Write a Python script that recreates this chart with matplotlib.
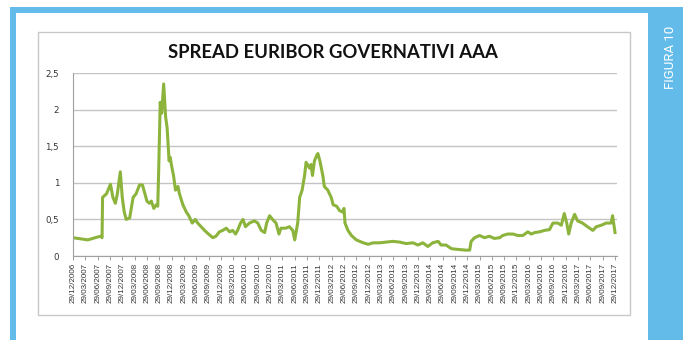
import numpy as np
import matplotlib
matplotlib.use("Agg")
from matplotlib import pyplot as plt
from matplotlib.patches import Rectangle

# spread series, x in years from 29/12/2006
years = [0.00, 0.10, 0.20, 0.30, 0.40, 0.50, 0.57, 0.59, 0.60, 0.68,
         0.76, 0.81, 0.86, 0.90, 0.96, 1.00, 1.04, 1.08, 1.15, 1.22,
         1.28, 1.35, 1.41, 1.46, 1.50, 1.55, 1.59, 1.64, 1.69, 1.72,
         1.74, 1.77, 1.80, 1.84, 1.88, 1.91, 1.95, 1.97, 2.01, 2.04,
         2.08, 2.13, 2.16, 2.23, 2.30, 2.35, 2.42, 2.48, 2.53, 2.60,
         2.67, 2.75, 2.84, 2.90, 2.97, 3.04, 3.11, 3.18, 3.24, 3.30,
         3.34, 3.40, 3.45, 3.50, 3.58, 3.68, 3.75, 3.82, 3.89, 3.93,
         3.99, 4.05, 4.12, 4.18, 4.22, 4.32, 4.39, 4.46, 4.50, 4.56,
         4.60, 4.65, 4.70, 4.73, 4.80, 4.83, 4.86, 4.90, 4.95, 4.97,
         5.01, 5.07, 5.10, 5.17, 5.24, 5.28, 5.35, 5.41, 5.47, 5.50,
         5.52, 5.58, 5.65, 5.75, 5.89, 5.99, 6.09, 6.22, 6.36, 6.49,
         6.63, 6.76, 6.90, 7.00, 7.10, 7.20, 7.30, 7.41, 7.47, 7.57,
         7.68, 7.81, 7.98, 8.05, 8.08, 8.15, 8.25, 8.35, 8.45, 8.55,
         8.66, 8.72, 8.82, 8.93, 9.03, 9.13, 9.23, 9.30, 9.37, 9.47,
         9.57, 9.67, 9.74, 9.84, 9.91, 9.97, 10.02, 10.06, 10.11, 10.18,
         10.24, 10.34, 10.44, 10.55, 10.62, 10.72, 10.82, 10.92, 10.95, 11.00]
spread = [0.25, 0.24, 0.23, 0.22, 0.24, 0.26, 0.27, 0.25, 0.80, 0.85,
          0.98, 0.80, 0.72, 0.85, 1.15, 0.80, 0.60, 0.50, 0.52, 0.80,
          0.85, 0.97, 0.97, 0.85, 0.75, 0.72, 0.75, 0.65, 0.70, 0.68,
          1.20, 2.10, 1.95, 2.35, 1.90, 1.75, 1.30, 1.35, 1.20, 1.10,
          0.90, 0.95, 0.85, 0.70, 0.60, 0.55, 0.45, 0.50, 0.45, 0.40,
          0.35, 0.30, 0.25, 0.27, 0.33, 0.35, 0.38, 0.33, 0.35, 0.30,
          0.35, 0.45, 0.50, 0.40, 0.45, 0.48, 0.45, 0.35, 0.32, 0.45,
          0.55, 0.50, 0.45, 0.30, 0.38, 0.38, 0.40, 0.35, 0.22, 0.45,
          0.80, 0.90, 1.10, 1.28, 1.20, 1.25, 1.10, 1.30, 1.38, 1.40,
          1.30, 1.10, 0.95, 0.90, 0.80, 0.70, 0.68, 0.62, 0.60, 0.65,
          0.45, 0.35, 0.28, 0.22, 0.18, 0.16, 0.18, 0.18, 0.19, 0.20,
          0.19, 0.17, 0.18, 0.15, 0.18, 0.13, 0.18, 0.20, 0.15, 0.15,
          0.10, 0.09, 0.08, 0.08, 0.20, 0.25, 0.28, 0.25, 0.27, 0.24,
          0.25, 0.28, 0.30, 0.30, 0.28, 0.28, 0.33, 0.30, 0.32, 0.33,
          0.35, 0.36, 0.45, 0.45, 0.42, 0.58, 0.45, 0.30, 0.45, 0.57,
          0.48, 0.45, 0.40, 0.35, 0.40, 0.42, 0.45, 0.45, 0.55, 0.32]

quarter_labels = [
    "29/12/2006", "29/03/2007", "29/06/2007", "29/09/2007", "29/12/2007",
    "29/03/2008", "29/06/2008", "29/09/2008", "29/12/2008",
    "29/03/2009", "29/06/2009", "29/09/2009", "29/12/2009",
    "29/03/2010", "29/06/2010", "29/09/2010", "29/12/2010",
    "29/03/2011", "29/06/2011", "29/09/2011", "29/12/2011",
    "29/03/2012", "29/06/2012", "29/09/2012", "29/12/2012",
    "29/03/2013", "29/06/2013", "29/09/2013", "29/12/2013",
    "29/03/2014", "29/06/2014", "29/09/2014", "29/12/2014",
    "29/03/2015", "29/06/2015", "29/09/2015", "29/12/2015",
    "29/03/2016", "29/06/2016", "29/09/2016", "29/12/2016",
    "29/03/2017", "29/06/2017", "29/09/2017", "29/12/2017"]
y_ticks = [0, 0.5, 1, 1.5, 2, 2.5]
y_labels = ["0", "0,5", "1", "1,5", "2", "2,5"]

W, H = 683, 340
blue = "#63bbe9"
grid = "#c4c4c4"

fig = plt.figure(figsize=(W / 100, H / 100), dpi=100)
fig.patch.set_facecolor("white")


def px_rect(x0, y0, x1, y1, **kw):
    # rectangle given in pixel coords measured from the top-left corner
    r = Rectangle((x0 / W, 1 - y1 / H), (x1 - x0) / W, (y1 - y0) / H,
                  transform=fig.transFigure, zorder=-1, **kw)
    fig.patches.append(r)


# blue page frame and side panel
px_rect(10, 7, 648, 13, facecolor=blue, edgecolor="none")
px_rect(10, 7, 16, 340, facecolor=blue, edgecolor="none")
px_rect(648, 7, 683, 340, facecolor=blue, edgecolor="none")
fig.text(670 / W, 1 - 57 / H, "FIGURA 10", rotation=90, color="white",
         fontsize=9.5, family="Roboto", ha="center", va="center")

# chart area border
px_rect(38, 32, 630, 315, facecolor="white", edgecolor="#c8c8c8", lw=1.0)

fig.text(333 / W, 1 - 52 / H, "SPREAD EURIBOR GOVERNATIVI AAA",
         fontsize=13.3, fontweight="bold", family="Lato", color="#111111",
         ha="center", va="center")

ax = fig.add_axes([73 / W, 1 - 256 / H, (617 - 73) / W, (256 - 73) / H])
ax.set_facecolor("none")
ax.plot(years, spread, color="#8cb43c", lw=2.2, solid_joinstyle="round")

ax.set_xlim(0, 11.04)
ax.set_ylim(0, 2.5)
ax.set_yticks(y_ticks)
ax.set_yticklabels(y_labels, fontsize=6.2, color="#333333", family="DejaVu Sans")
ax.set_xticks(np.arange(len(quarter_labels)) * 0.25)
ax.set_xticklabels(quarter_labels, rotation=90, fontsize=5.8, color="#333333",
                   family="Liberation Sans")
ax.tick_params(axis="y", length=0, pad=10)
ax.tick_params(axis="x", length=3, width=0.7, color="#a0a0a0", pad=2)
ax.grid(axis="y", color=grid, lw=1.0)
ax.set_axisbelow(True)
for side in ["top", "right"]:
    ax.spines[side].set_visible(False)
ax.spines["left"].set_color("#a0a0a0")
ax.spines["bottom"].set_color("#a0a0a0")
ax.spines["left"].set_linewidth(0.8)
ax.spines["bottom"].set_linewidth(0.8)

fig.savefig("out.png", dpi=100)
